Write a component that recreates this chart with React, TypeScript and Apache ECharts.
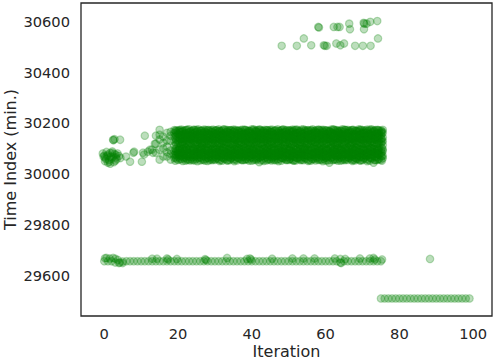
import React, { useEffect, useRef } from "react";
import * as echarts from "echarts";

// ---- data ----
const xTicks = [0, 20, 40, 60, 80, 100];
const yTicks = [29600, 29800, 30000, 30200, 30400, 30600];

// early scattered points (iterations 0-13) around 30000-30150
const earlyPoints: [number, number][] = [
  [-0.4, 30080], [0, 30072], [0.2, 30064], [0.6, 30086], [1, 30044], [1, 30076],
  [1.3, 30055], [1.8, 30068], [2.2, 30088], [2.4, 30068], [2.6, 30046], [3, 30052],
  [3.4, 30058], [3.6, 30080], [4, 30070], [4.4, 30062], [2.4, 30134], [2.8, 30136],
  [4.3, 30134], [0.4, 30058], [1.6, 30082], [3.2, 30074],
  [0.2, 30050], [0.8, 30070], [1.4, 30048], [2, 30060], [2.8, 30078], [3.2, 30064],
  [-0.2, 30068], [1.6, 30040], [2.2, 30082], [2.5, 30132],
  [5.9, 30068], [7, 30048], [7.9, 30083], [8.1, 30087], [10.2, 30048], [10.5, 30083],
  [10.8, 30076], [11, 30150], [11.8, 30087], [12.4, 30095], [12.9, 30095], [13.2, 30083],
  [13.7, 30118],
];

// dense band: iteration -> observed values
const bandRows: [number, number[]][] = [
  [14, [30118, 30150, 30083]],
  [15, [30056, 30095, 30154, 30173, 30135]],
  [16, [30068, 30146, 30122, 30100]],
  [17, [30068, 30161, 30107, 30085, 30130]],
  [18, [30056, 30078, 30130, 30150, 30165, 30092]],
  [19, [30062, 30090, 30112, 30146, 30160, 30172, 30075]],
  [20, [30055, 30068, 30080, 30094, 30118, 30131, 30144, 30158, 30170, 30086]],
  [21, [30058, 30071, 30084, 30098, 30115, 30127, 30140, 30152, 30166, 30174]],
  [22, [30052, 30064, 30077, 30090, 30102, 30120, 30134, 30147, 30160, 30171]],
  [23, [30057, 30069, 30083, 30095, 30117, 30129, 30138, 30151, 30163, 30175]],
  [24, [30054, 30066, 30079, 30092, 30100, 30121, 30133, 30145, 30157, 30170]],
  [25, [30059, 30072, 30086, 30097, 30114, 30126, 30139, 30153, 30165, 30173]],
  [26, [30053, 30065, 30078, 30089, 30101, 30119, 30131, 30144, 30158, 30169]],
  [27, [30056, 30070, 30082, 30094, 30116, 30128, 30142, 30150, 30162, 30174]],
  [28, [30051, 30063, 30076, 30091, 30103, 30118, 30132, 30146, 30159, 30171]],
  [29, [30058, 30068, 30081, 30096, 30115, 30124, 30137, 30149, 30164, 30172]],
  [30, [30055, 30067, 30080, 30093, 30099, 30120, 30134, 30147, 30156, 30170]],
  [31, [30057, 30071, 30085, 30095, 30117, 30129, 30141, 30154, 30166, 30175]],
  [32, [30052, 30064, 30077, 30090, 30102, 30122, 30130, 30143, 30157, 30169]],
  [33, [30059, 30070, 30083, 30097, 30114, 30126, 30139, 30152, 30163, 30173]],
  [34, [30054, 30066, 30079, 30088, 30100, 30119, 30133, 30145, 30160, 30171]],
  [35, [30056, 30069, 30082, 30094, 30116, 30128, 30140, 30151, 30165, 30174]],
  [36, [30053, 30065, 30078, 30092, 30103, 30121, 30135, 30148, 30158, 30170]],
  [37, [30058, 30072, 30084, 30096, 30115, 30125, 30138, 30153, 30162, 30172]],
  [38, [30055, 30067, 30080, 30089, 30101, 30118, 30131, 30144, 30159, 30173]],
  [39, [30057, 30068, 30083, 30095, 30113, 30127, 30142, 30150, 30164, 30169]],
  [40, [30052, 30066, 30076, 30091, 30099, 30120, 30132, 30146, 30157, 30175]],
  [41, [30059, 30070, 30085, 30097, 30116, 30129, 30137, 30152, 30166, 30171]],
  [42, [30046, 30064, 30079, 30093, 30102, 30122, 30134, 30143, 30158, 30174]],
  [43, [30056, 30071, 30081, 30094, 30114, 30124, 30139, 30151, 30163, 30170]],
  [44, [30053, 30065, 30078, 30090, 30100, 30119, 30130, 30147, 30160, 30172]],
  [45, [30058, 30069, 30084, 30096, 30117, 30128, 30141, 30154, 30165, 30173]],
  [46, [30054, 30067, 30080, 30092, 30103, 30121, 30133, 30145, 30156, 30169]],
  [47, [30057, 30072, 30082, 30095, 30115, 30126, 30138, 30150, 30162, 30175]],
  [48, [30052, 30063, 30077, 30088, 30101, 30118, 30135, 30148, 30159, 30171]],
  [49, [30059, 30070, 30086, 30097, 30113, 30127, 30140, 30153, 30164, 30172]],
  [50, [30055, 30066, 30079, 30093, 30100, 30120, 30131, 30144, 30157, 30170]],
  [51, [30056, 30071, 30083, 30091, 30116, 30129, 30142, 30151, 30166, 30174]],
  [52, [30053, 30064, 30078, 30094, 30102, 30122, 30132, 30146, 30160, 30173]],
  [53, [30058, 30068, 30081, 30096, 30114, 30125, 30137, 30149, 30163, 30169]],
  [54, [30054, 30067, 30084, 30090, 30099, 30119, 30134, 30147, 30158, 30175]],
  [55, [30057, 30072, 30080, 30095, 30117, 30128, 30139, 30152, 30165, 30171]],
  [56, [30052, 30065, 30077, 30092, 30103, 30121, 30130, 30143, 30156, 30172]],
  [57, [30059, 30070, 30085, 30097, 30115, 30126, 30141, 30154, 30164, 30170]],
  [58, [30055, 30066, 30079, 30089, 30101, 30118, 30133, 30145, 30161, 30174]],
  [59, [30056, 30069, 30082, 30094, 30113, 30127, 30138, 30150, 30162, 30173]],
  [60, [30053, 30064, 30078, 30093, 30100, 30120, 30135, 30148, 30157, 30171]],
  [61, [30044, 30071, 30084, 30096, 30116, 30129, 30140, 30153, 30166, 30169]],
  [62, [30054, 30067, 30080, 30090, 30102, 30122, 30131, 30144, 30159, 30175]],
  [63, [30057, 30068, 30083, 30095, 30114, 30124, 30139, 30151, 30163, 30172]],
  [64, [30052, 30065, 30076, 30092, 30099, 30119, 30132, 30146, 30158, 30170]],
  [65, [30058, 30072, 30086, 30097, 30117, 30128, 30142, 30152, 30165, 30174]],
  [66, [30055, 30066, 30079, 30091, 30103, 30121, 30134, 30147, 30160, 30173]],
  [67, [30056, 30070, 30081, 30094, 30115, 30126, 30137, 30149, 30164, 30171]],
  [68, [30053, 30063, 30077, 30093, 30101, 30118, 30130, 30143, 30156, 30169]],
  [69, [30059, 30071, 30084, 30096, 30113, 30127, 30141, 30154, 30166, 30175]],
  [70, [30054, 30067, 30080, 30090, 30100, 30120, 30133, 30145, 30159, 30172]],
  [71, [30057, 30069, 30082, 30095, 30116, 30129, 30138, 30150, 30162, 30170]],
  [72, [30052, 30064, 30078, 30092, 30102, 30122, 30135, 30148, 30157, 30174]],
  [73, [30044, 30070, 30085, 30097, 30114, 30125, 30140, 30153, 30165, 30171]],
  [74, [30055, 30066, 30079, 30089, 30099, 30119, 30131, 30144, 30160, 30173]],
  [75, [30056, 30071, 30083, 30094, 30117, 30128, 30139, 30151, 30163, 30170]],
];

// dense band, points that fall between whole iterations
const bandRowsHalf: [number, number[]][] = [
  [19.5, [30060, 30074, 30088, 30116, 30131, 30148, 30163, 30171, 30097]],
  [20.5, [30057, 30072, 30087, 30101, 30119, 30135, 30150, 30164, 30173]],
  [21.5, [30061, 30076, 30090, 30099, 30113, 30128, 30143, 30157, 30170]],
  [22.5, [30055, 30070, 30084, 30097, 30117, 30132, 30146, 30161, 30174]],
  [23.5, [30059, 30073, 30089, 30103, 30120, 30136, 30149, 30159, 30168]],
  [24.5, [30053, 30068, 30082, 30096, 30115, 30130, 30144, 30162, 30172]],
  [25.5, [30062, 30075, 30087, 30100, 30118, 30133, 30148, 30158, 30175]],
  [26.5, [30056, 30071, 30085, 30098, 30114, 30127, 30145, 30160, 30170]],
  [27.5, [30060, 30074, 30091, 30102, 30121, 30135, 30150, 30163, 30173]],
  [28.5, [30054, 30069, 30083, 30095, 30116, 30131, 30142, 30157, 30169]],
  [29.5, [30058, 30073, 30088, 30101, 30119, 30134, 30147, 30161, 30174]],
  [30.5, [30061, 30076, 30086, 30099, 30113, 30128, 30143, 30158, 30171]],
  [31.5, [30055, 30070, 30084, 30097, 30118, 30132, 30149, 30162, 30168]],
  [32.5, [30059, 30074, 30090, 30103, 30115, 30130, 30146, 30159, 30175]],
  [33.5, [30053, 30068, 30082, 30096, 30120, 30136, 30144, 30164, 30172]],
  [34.5, [30062, 30075, 30089, 30100, 30117, 30129, 30148, 30157, 30170]],
  [35.5, [30057, 30072, 30086, 30098, 30114, 30133, 30145, 30161, 30173]],
  [36.5, [30060, 30073, 30087, 30102, 30119, 30127, 30150, 30163, 30169]],
  [37.5, [30054, 30069, 30083, 30095, 30116, 30135, 30142, 30158, 30174]],
  [38.5, [30058, 30076, 30091, 30101, 30121, 30131, 30147, 30160, 30171]],
  [39.5, [30061, 30071, 30085, 30097, 30113, 30128, 30143, 30162, 30168]],
  [40.5, [30055, 30074, 30088, 30099, 30118, 30134, 30149, 30157, 30175]],
  [41.5, [30059, 30070, 30082, 30103, 30115, 30130, 30146, 30164, 30172]],
  [42.5, [30053, 30068, 30089, 30096, 30120, 30136, 30144, 30159, 30170]],
  [43.5, [30062, 30075, 30084, 30100, 30117, 30129, 30148, 30161, 30173]],
  [44.5, [30056, 30072, 30087, 30098, 30114, 30133, 30145, 30158, 30169]],
  [45.5, [30060, 30073, 30090, 30102, 30119, 30127, 30150, 30163, 30174]],
  [46.5, [30054, 30069, 30083, 30095, 30116, 30135, 30142, 30157, 30171]],
  [47.5, [30058, 30076, 30086, 30101, 30121, 30131, 30147, 30160, 30168]],
  [48.5, [30061, 30071, 30088, 30097, 30113, 30128, 30143, 30162, 30175]],
  [49.5, [30055, 30074, 30082, 30099, 30118, 30134, 30149, 30157, 30172]],
  [50.5, [30059, 30070, 30091, 30103, 30115, 30130, 30146, 30164, 30170]],
  [51.5, [30053, 30068, 30085, 30096, 30120, 30136, 30144, 30159, 30173]],
  [52.5, [30062, 30075, 30089, 30100, 30117, 30129, 30148, 30161, 30169]],
  [53.5, [30056, 30072, 30084, 30098, 30114, 30133, 30145, 30158, 30174]],
  [54.5, [30060, 30073, 30087, 30102, 30119, 30127, 30150, 30163, 30171]],
  [55.5, [30054, 30069, 30090, 30095, 30116, 30135, 30142, 30157, 30168]],
  [56.5, [30058, 30076, 30083, 30101, 30121, 30131, 30147, 30160, 30175]],
  [57.5, [30061, 30071, 30086, 30097, 30113, 30128, 30143, 30162, 30172]],
  [58.5, [30055, 30074, 30088, 30099, 30118, 30134, 30149, 30157, 30170]],
  [59.5, [30059, 30070, 30082, 30103, 30115, 30130, 30146, 30164, 30173]],
  [60.5, [30053, 30068, 30091, 30096, 30120, 30136, 30144, 30159, 30169]],
  [61.5, [30062, 30075, 30085, 30100, 30117, 30129, 30148, 30161, 30174]],
  [62.5, [30056, 30072, 30089, 30098, 30114, 30133, 30145, 30158, 30171]],
  [63.5, [30060, 30073, 30084, 30102, 30119, 30127, 30150, 30163, 30168]],
  [64.5, [30054, 30069, 30087, 30095, 30116, 30135, 30142, 30157, 30175]],
  [65.5, [30058, 30076, 30090, 30101, 30121, 30131, 30147, 30160, 30172]],
  [66.5, [30061, 30071, 30083, 30097, 30113, 30128, 30143, 30162, 30170]],
  [67.5, [30055, 30074, 30086, 30099, 30118, 30134, 30149, 30157, 30173]],
  [68.5, [30059, 30070, 30088, 30103, 30115, 30130, 30146, 30164, 30169]],
  [69.5, [30053, 30068, 30082, 30096, 30120, 30136, 30144, 30159, 30174]],
  [70.5, [30062, 30075, 30091, 30100, 30117, 30129, 30148, 30161, 30171]],
  [71.5, [30056, 30072, 30085, 30098, 30114, 30133, 30145, 30158, 30168]],
  [72.5, [30060, 30073, 30089, 30102, 30119, 30127, 30150, 30163, 30175]],
  [73.5, [30054, 30069, 30084, 30095, 30116, 30135, 30142, 30157, 30172]],
  [74.5, [30058, 30076, 30087, 30101, 30121, 30131, 30147, 30160, 30170]],
  [75.5, [30061, 30071, 30090, 30097, 30113, 30128, 30143, 30162, 30173]],
];

// dense band, further points a quarter past whole iterations
const bandRowsQuarter: [number, number[]][] = [
  [19.25, [30066, 30081, 30099, 30124, 30139, 30155, 30168, 30052]],
  [20.25, [30063, 30078, 30093, 30100, 30125, 30141, 30156, 30169]],
  [21.25, [30051, 30067, 30082, 30098, 30122, 30138, 30153, 30167]],
  [22.25, [30059, 30075, 30092, 30101, 30126, 30142, 30155, 30172]],
  [23.25, [30053, 30066, 30080, 30097, 30123, 30137, 30152, 30166]],
  [24.25, [30060, 30073, 30091, 30099, 30127, 30143, 30158, 30174]],
  [25.25, [30050, 30065, 30081, 30096, 30124, 30140, 30154, 30168]],
  [26.25, [30062, 30079, 30094, 30102, 30121, 30136, 30151, 30170]],
  [27.25, [30052, 30068, 30083, 30098, 30125, 30139, 30157, 30167]],
  [28.25, [30061, 30076, 30090, 30100, 30122, 30144, 30153, 30173]],
  [29.25, [30054, 30064, 30079, 30095, 30126, 30138, 30155, 30166]],
  [30.25, [30059, 30072, 30087, 30101, 30123, 30141, 30159, 30171]],
  [31.25, [30051, 30066, 30082, 30097, 30120, 30137, 30152, 30169]],
  [32.25, [30063, 30078, 30093, 30099, 30127, 30142, 30156, 30174]],
  [33.25, [30053, 30069, 30085, 30102, 30124, 30139, 30154, 30167]],
  [34.25, [30060, 30074, 30089, 30098, 30121, 30145, 30158, 30172]],
  [35.25, [30050, 30067, 30080, 30096, 30125, 30136, 30151, 30168]],
  [36.25, [30062, 30077, 30092, 30100, 30122, 30140, 30157, 30170]],
  [37.25, [30055, 30065, 30081, 30097, 30126, 30143, 30153, 30166]],
  [38.25, [30058, 30073, 30088, 30101, 30123, 30138, 30155, 30173]],
  [39.25, [30052, 30068, 30084, 30099, 30120, 30141, 30159, 30169]],
  [40.25, [30061, 30079, 30094, 30102, 30127, 30137, 30152, 30171]],
  [41.25, [30054, 30064, 30080, 30096, 30124, 30144, 30156, 30167]],
  [42.25, [30063, 30075, 30090, 30098, 30121, 30139, 30154, 30174]],
  [43.25, [30051, 30070, 30083, 30100, 30125, 30136, 30158, 30168]],
  [44.25, [30059, 30076, 30087, 30101, 30122, 30142, 30151, 30172]],
  [45.25, [30053, 30066, 30082, 30097, 30126, 30140, 30157, 30166]],
  [46.25, [30060, 30072, 30093, 30099, 30123, 30138, 30153, 30170]],
  [47.25, [30050, 30069, 30085, 30102, 30120, 30143, 30155, 30169]],
  [48.25, [30062, 30078, 30089, 30096, 30127, 30137, 30159, 30173]],
  [49.25, [30055, 30065, 30081, 30100, 30124, 30141, 30152, 30167]],
  [50.25, [30058, 30074, 30092, 30098, 30121, 30144, 30156, 30171]],
  [51.25, [30052, 30067, 30084, 30101, 30125, 30139, 30154, 30168]],
  [52.25, [30061, 30077, 30088, 30097, 30122, 30136, 30158, 30174]],
  [53.25, [30054, 30064, 30080, 30099, 30126, 30142, 30151, 30166]],
  [54.25, [30063, 30073, 30094, 30102, 30123, 30140, 30157, 30170]],
  [55.25, [30051, 30070, 30083, 30096, 30120, 30138, 30153, 30172]],
  [56.25, [30059, 30076, 30090, 30100, 30127, 30143, 30155, 30169]],
  [57.25, [30053, 30066, 30082, 30098, 30124, 30137, 30159, 30167]],
  [58.25, [30060, 30079, 30087, 30101, 30121, 30141, 30152, 30173]],
  [59.25, [30050, 30068, 30085, 30097, 30125, 30144, 30156, 30168]],
  [60.25, [30062, 30072, 30093, 30099, 30122, 30139, 30154, 30171]],
  [61.25, [30055, 30065, 30081, 30102, 30126, 30136, 30158, 30166]],
  [62.25, [30058, 30075, 30089, 30096, 30123, 30142, 30151, 30174]],
  [63.25, [30052, 30069, 30084, 30100, 30120, 30140, 30157, 30170]],
  [64.25, [30061, 30078, 30092, 30098, 30127, 30138, 30153, 30168]],
  [65.25, [30054, 30064, 30080, 30101, 30124, 30143, 30155, 30172]],
  [66.25, [30063, 30074, 30088, 30097, 30121, 30137, 30159, 30167]],
  [67.25, [30051, 30067, 30083, 30099, 30125, 30141, 30152, 30173]],
  [68.25, [30059, 30077, 30090, 30102, 30122, 30144, 30156, 30169]],
  [69.25, [30053, 30066, 30085, 30096, 30126, 30139, 30154, 30171]],
  [70.25, [30060, 30073, 30094, 30100, 30123, 30136, 30158, 30166]],
  [71.25, [30050, 30070, 30082, 30098, 30120, 30142, 30151, 30174]],
  [72.25, [30062, 30076, 30087, 30101, 30127, 30140, 30157, 30170]],
  [73.25, [30055, 30065, 30081, 30097, 30124, 30138, 30153, 30168]],
  [74.25, [30058, 30079, 30093, 30099, 30121, 30143, 30155, 30172]],
  [75.25, [30052, 30068, 30084, 30102, 30125, 30137, 30159, 30167]],
];

// upper outlier cluster
const topCluster: [number, number][] = [
  [58.0, 30577], [58.2, 30575], [62.2, 30577], [63.2, 30577], [63.8, 30577],
  [66.4, 30590], [66.6, 30568], [70.3, 30593], [70.5, 30590], [71.1, 30590],
  [70.4, 30568], [72.1, 30597], [74.0, 30600],
  [48.1, 30503], [52.2, 30503], [54.1, 30532], [56.1, 30505], [59.5, 30505],
  [59.8, 30503], [60.3, 30503], [62.9, 30512], [64.0, 30505], [65.0, 30512],
  [68.0, 30503], [70.1, 30503], [72.2, 30503], [74.2, 30532],
];

// lower row ~29657 (iterations 0-75) and its slightly higher points
const lowRow: [number, number][] = [
  [0, 29657], [1, 29657], [2, 29657], [3, 29652], [4, 29650], [5, 29650], [6, 29657],
  [7, 29657], [8, 29657], [9, 29657], [10, 29657], [11, 29657], [12, 29657], [13, 29657],
  [14, 29657], [15, 29657], [16, 29657], [17, 29657], [18, 29657], [19, 29657], [20, 29657],
  [21, 29657], [22, 29657], [23, 29657], [24, 29657], [25, 29657], [26, 29657], [27, 29657],
  [28, 29657], [29, 29657], [30, 29657], [31, 29657], [32, 29657], [33, 29657], [34, 29657],
  [35, 29657], [36, 29657], [37, 29657], [38, 29657], [39, 29657], [40, 29657], [41, 29657],
  [42, 29657], [43, 29657], [44, 29657], [45, 29657], [46, 29657], [47, 29657], [48, 29657],
  [49, 29657], [50, 29657], [51, 29657], [52, 29657], [53, 29657], [54, 29657], [55, 29657],
  [56, 29657], [57, 29657], [58, 29657], [59, 29657], [60, 29657], [61, 29657], [62, 29657],
  [63, 29657], [64, 29652], [65, 29657], [66, 29657], [67, 29657], [68, 29657], [69, 29657],
  [70, 29657], [71, 29657], [72, 29657], [73, 29657], [74, 29657], [75, 29657],
];
const lowRowUpper: [number, number][] = [
  [0.2, 29669], [0.6, 29670], [1.5, 29668], [2.4, 29670], [3, 29667], [3.7, 29662],
  [5, 29656], [4.2, 29652], [13, 29667], [14.3, 29667], [17, 29668], [17.3, 29664], [19.7, 29666],
  [27.3, 29665], [27.6, 29662], [33.3, 29670], [38.7, 29666], [39.5, 29668], [39.8, 29664],
  [45.5, 29667], [51, 29668], [54, 29668], [57, 29668], [62.5, 29668], [64, 29666],
  [64.2, 29650], [65.3, 29666], [69.3, 29668], [72, 29668], [73, 29670], [73.3, 29664],
  [75.3, 29664], [88.3, 29666],
];

// bottom row (iterations 75-99)
const bottomRow: [number, number][] = [
  [75, 29511], [76, 29511], [77, 29511], [78, 29511], [79, 29511], [80, 29511], [81, 29511],
  [82, 29511], [83, 29511], [84, 29511], [85, 29511], [86, 29511], [87, 29511], [88, 29511],
  [89, 29511], [90, 29511], [91, 29511], [92, 29511], [93, 29511], [94, 29511], [95, 29511],
  [96, 29511], [97, 29511], [98, 29511], [99, 29511],
];

export default function App() {
  const ref = useRef<HTMLDivElement>(null);
  useEffect(() => {
    if (!ref.current) return;
    const chart = echarts.init(ref.current, undefined, { renderer: "svg" });
    const bandPoints: [number, number][] = [];
    [bandRows, bandRowsHalf, bandRowsQuarter].forEach((rows) =>
      rows.forEach(([it, vals]) => vals.forEach((v) => bandPoints.push([it, v])))
    );
    const all = [...lowRow, ...lowRowUpper, ...bottomRow, ...earlyPoints, ...bandPoints, ...topCluster];
    const font = "DejaVu Sans";
    const txt = "#262626";
    chart.setOption({
      animation: false,
      backgroundColor: "#ffffff",
      grid: {
        left: 81,
        top: 3,
        width: 411,
        height: 313,
        show: true,
        borderColor: "#262626",
        borderWidth: 1.3,
        backgroundColor: "transparent",
        containLabel: false,
        outerBoundsMode: "none",
      },
      xAxis: {
        type: "value",
        min: -6.3,
        max: 105.1,
        name: "Iteration",
        nameLocation: "middle",
        nameGap: 27,
        nameMoveOverlap: false,
        nameTextStyle: { fontFamily: font, fontSize: 16, color: txt },
        axisLine: { show: false },
        axisTick: { show: false },
        splitLine: { show: false },
        axisLabel: {
          customValues: xTicks,
          formatter: (v: number) => String(v),
          fontFamily: font,
          fontSize: 14.67,
          color: txt,
          margin: 10,
        },
      },
      yAxis: {
        type: "value",
        min: 29442,
        max: 30671,
        name: "Time Index (min.)",
        nameLocation: "middle",
        nameGap: 63,
        nameMoveOverlap: false,
        nameTextStyle: { fontFamily: font, fontSize: 16, color: txt },
        axisLine: { show: false },
        axisTick: { show: false },
        splitLine: { show: false },
        axisLabel: {
          customValues: yTicks,
          formatter: (v: number) => String(v),
          fontFamily: font,
          fontSize: 14.67,
          color: txt,
          margin: 11,
        },
      },
      series: [
        {
          type: "scatter",
          data: all,
          symbol: "circle",
          symbolSize: 7.5,
          large: false,
          progressive: 0,
          itemStyle: {
            color: "rgba(0,128,0,0.33)",
            borderColor: "rgba(0,128,0,0.33)",
            borderWidth: 1.2,
          },
          emphasis: { disabled: true },
        },
      ],
    });
    return () => chart.dispose();
  }, []);
  return (
    <div
      ref={ref}
      style={{ position: "absolute", left: 0, top: 0, width: 495, height: 360 }}
    />
  );
}
